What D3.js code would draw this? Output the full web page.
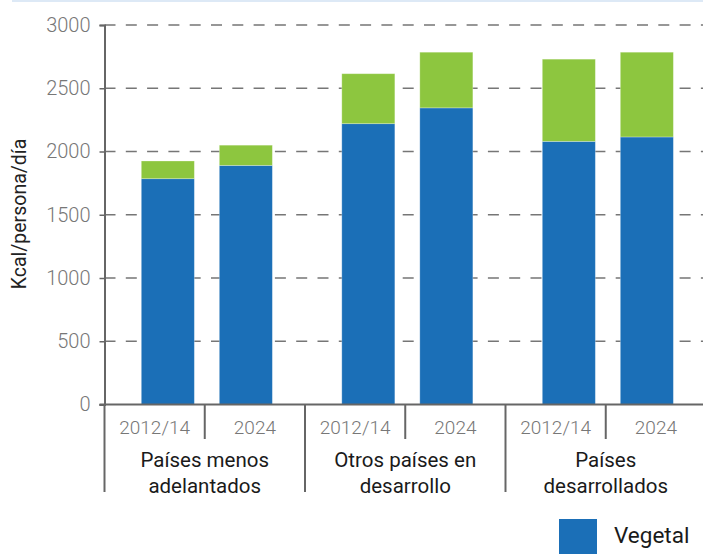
<!DOCTYPE html>
<html>
<head>
<meta charset="utf-8">
<script src="https://cdn.jsdelivr.net/npm/d3@7/dist/d3.min.js"></script>
<style>
    body { margin: 0; background: #fff; }
    svg { display: block; font-family: Roboto, "Open Sans", sans-serif; }
</style>
</head>
<body>
<div id="chart"></div>
<script>
// Data
var groups = ["Países menos adelantados", "Otros países en desarrollo", "Países desarrollados"];
var group_lines = [["Países menos", "adelantados"], ["Otros países en", "desarrollo"], ["Países", "desarrollados"]];
var years = ["2012/14", "2024"];
var series = ["Vegetal", "Animal"];
var vegetal = [1785, 1890, 2220, 2345, 2080, 2115];
var animal  = [140, 160, 395, 440, 650, 670];
var y_ticks = [0, 500, 1000, 1500, 2000, 2500, 3000];
var colors = ["#1b6fb7", "#8dc63f"];

var width = 703, height = 554;

var svg = d3.select("#chart").append("svg")
    .attr("width", width)
    .attr("height", height);

//Thin light-blue rule at the very top
svg.append("line")
    .attr("x1", 12).attr("x2", width)
    .attr("y1", 1).attr("y2", 1)
    .attr("stroke", "#dde9f6")
    .attr("stroke-width", 2);

//Scales
var y_scale = d3.scaleLinear()
    .domain([0, 3000])
    .range([404.5, 25]);

var x_group = d3.scaleBand()
    .domain(groups)
    .range([104.5, 706])
    .padding(0);

var x_year = d3.scaleBand()
    .domain(years)
    .range([0, x_group.bandwidth()])
    .paddingInner(0.32)
    .paddingOuter(0.445)
    .align(0.53);

//Build stacked rows, one per bar
var rows = [];
groups.forEach(function(g, gi) {
    years.forEach(function(yr, yi) {
        var i = gi * years.length + yi;
        rows.push({group: g, year: yr, Vegetal: vegetal[i], Animal: animal[i]});
    });
});
var stacked = d3.stack().keys(series)(rows);

//Dashed gridlines
var x_left = 104.5;
svg.append("g").selectAll("line")
    .data(y_ticks.filter(function(d) {return d > 0;}))
    .join("line")
    .attr("x1", x_left).attr("x2", width)
    .attr("y1", function(d) {return y_scale(d);})
    .attr("y2", function(d) {return y_scale(d);})
    .attr("stroke", "#767676")
    .attr("stroke-width", 1.3)
    .attr("stroke-dasharray", "11,10.3");

//Bars
svg.append("g").selectAll("g")
    .data(stacked)
    .join("g")
    .attr("fill", function(d, i) {return colors[i];})
    .selectAll("rect")
    .data(function(d) {return d;})
    .join("rect")
    .attr("x", function(d) {return x_group(d.data.group) + x_year(d.data.year);})
    .attr("width", x_year.bandwidth())
    .attr("y", function(d) {return y_scale(d[1]);})
    .attr("height", function(d) {return y_scale(d[0]) - y_scale(d[1]);})
    .attr("stroke", "rgba(255,255,255,0.35)")
    .attr("stroke-width", 0.8);

//Y axis
var y_axis = d3.axisLeft(y_scale)
    .tickValues(y_ticks)
    .tickFormat(d3.format("d"))
    .tickSize(5)
    .tickPadding(9);

var y_g = svg.append("g")
    .attr("transform", "translate(" + x_left + ",0)")
    .call(y_axis);
y_g.select(".domain").attr("stroke", "#666").attr("stroke-width", 2);
y_g.selectAll(".tick line").attr("stroke", "#666").attr("stroke-width", 1.5);
y_g.selectAll(".tick text")
    .attr("fill", "#777")
    .style("font-size", "20px")
    .style("font-family", "Roboto, sans-serif")
    .style("font-weight", 300);

//Y axis label
svg.append("text")
    .attr("transform", "translate(26,214) rotate(-90)")
    .style("text-anchor", "middle")
    .style("font-size", "19.5px")
    .attr("fill", "#222")
    .text("Kcal/persona/día");

//X axis baseline
var x_base = y_scale(0);
svg.append("line")
    .attr("x1", x_left - 5).attr("x2", width)
    .attr("y1", x_base).attr("y2", x_base)
    .attr("stroke", "#666")
    .attr("stroke-width", 2);

//Category separators and labels
var cat = svg.append("g");
groups.forEach(function(g, gi) {
    var gx = x_group(g), bw = x_group.bandwidth();

    //long separator at group start
    cat.append("line")
        .attr("x1", gx).attr("x2", gx)
        .attr("y1", x_base).attr("y2", 492)
        .attr("stroke", "#666").attr("stroke-width", 2);

    //short separator between years
    cat.append("line")
        .attr("x1", gx + bw / 2).attr("x2", gx + bw / 2)
        .attr("y1", x_base).attr("y2", 439)
        .attr("stroke", "#666").attr("stroke-width", 2);

    years.forEach(function(yr, yi) {
        cat.append("text")
            .attr("x", gx + bw / 4 + yi * bw / 2)
            .attr("y", 434)
            .style("text-anchor", "middle")
            .style("font-size", "19px")
            .style("font-weight", 300)
            .attr("fill", "#777")
            .text(yr);
    });

    group_lines[gi].forEach(function(line, li) {
        cat.append("text")
            .attr("x", gx + bw / 2)
            .attr("y", 467 + li * 25.5)
            .style("text-anchor", "middle")
            .style("font-size", "20.5px")
            .attr("fill", "#1a1a1a")
            .text(line);
    });
});
//closing separator on the right
var last_x = x_group(groups[groups.length - 1]) + x_group.bandwidth();
cat.append("line")
    .attr("x1", last_x).attr("x2", last_x)
    .attr("y1", x_base).attr("y2", 492)
    .attr("stroke", "#666").attr("stroke-width", 2);

//Legend (only first entry is visible in frame)
var legend = svg.append("g").attr("transform", "translate(559,519)");
legend.append("rect")
    .attr("width", 38).attr("height", 38)
    .attr("fill", colors[0]);
legend.append("text")
    .attr("x", 55).attr("y", 24)
    .style("font-size", "22.5px")
    .attr("fill", "#1a1a1a")
    .text(series[0]);
</script>
</body>
</html>
